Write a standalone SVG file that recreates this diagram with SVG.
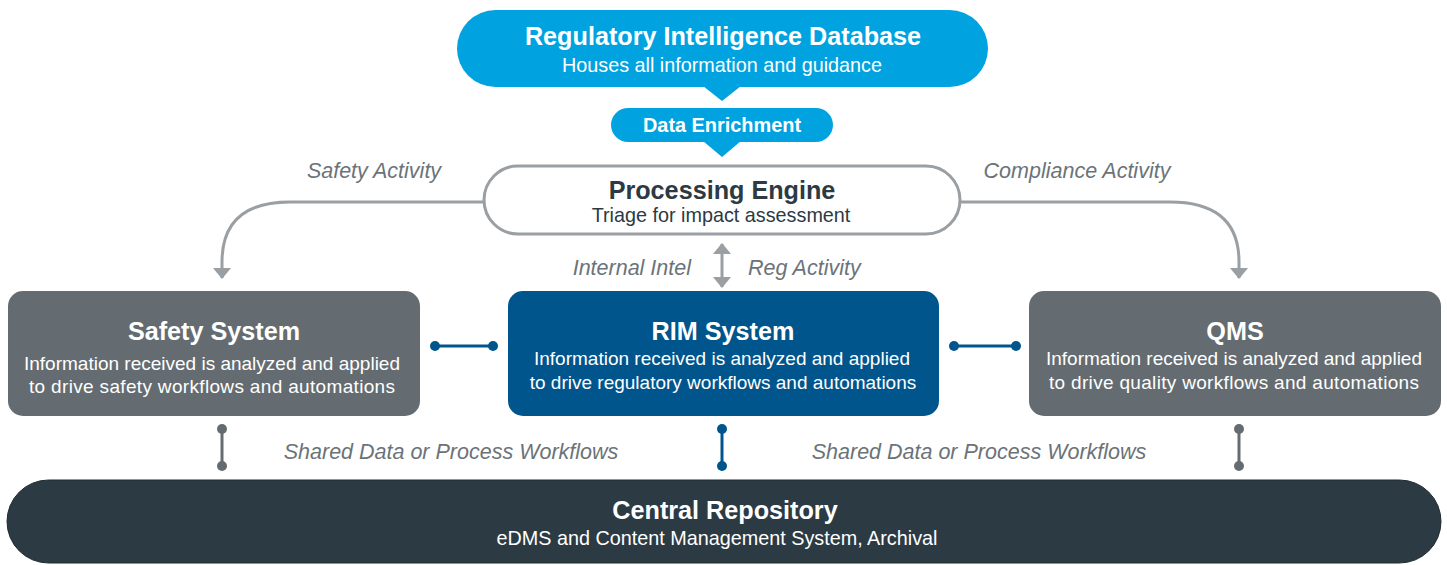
<svg xmlns="http://www.w3.org/2000/svg" width="1447" height="565" viewBox="0 0 1447 565">
  <style>
    text { font-family: "Liberation Sans", Arial, sans-serif; text-anchor: middle; }
    .title { font-weight: bold; font-size: 25.2px; fill: #ffffff; }
    .sub { font-size: 19.8px; fill: #ffffff; }
    .info { font-size: 19px; fill: #ffffff; }
    .label { font-style: italic; font-size: 21.5px; fill: #6b7378; }
    .flow { fill: none; stroke: #999fa3; stroke-width: 3; }
    .link-blue { stroke: #00558c; stroke-width: 3; }
    .link-gray { stroke: #646c71; stroke-width: 3; }
  </style>
  <defs>
    <marker id="head" viewBox="0 0 11 18" refX="10" refY="9" markerWidth="11" markerHeight="18" orient="auto-start-reverse" markerUnits="userSpaceOnUse">
      <path d="M0,0 L11,9 L0,18 Z" fill="#999fa3"/>
    </marker>
  </defs>

  <!-- Regulatory Intelligence Database -->
  <g id="rid">
    <rect x="457" y="10" width="531" height="77" rx="38.5" fill="#00a3e0"/>
    <path d="M703,86 L741,86 L722,101 Z" fill="#00a3e0"/>
    <text class="title" x="723" y="45">Regulatory Intelligence Database</text>
    <text class="sub" x="722" y="72">Houses all information and guidance</text>
  </g>

  <!-- Data Enrichment -->
  <g id="enrichment">
    <rect x="611" y="108" width="222" height="34" rx="17" fill="#00a3e0"/>
    <path d="M703,141 L741,141 L722,157 Z" fill="#00a3e0"/>
    <text x="722" y="132" style="font-weight:bold;font-size:19.9px;fill:#ffffff">Data Enrichment</text>
  </g>

  <!-- Processing Engine -->
  <g id="engine">
    <rect x="484" y="166" width="476" height="68" rx="34" fill="#ffffff" stroke="#999fa3" stroke-width="3"/>
    <text class="title" x="722" y="199" style="fill:#2c3a44">Processing Engine</text>
    <text class="sub" x="721" y="222" style="fill:#2c3a44">Triage for impact assessment</text>
  </g>

  <!-- Safety System -->
  <g id="safety">
    <rect x="8" y="291" width="412" height="125" rx="15" fill="#646c71"/>
    <text class="title" x="214" y="340">Safety System</text>
    <text class="info" x="212" y="370">Information received is analyzed and applied</text>
    <text class="info" x="212" y="393" textLength="366">to drive safety workflows and automations</text>
  </g>

  <!-- RIM System -->
  <g id="rim">
    <rect x="508" y="291" width="431" height="125" rx="15" fill="#00558c"/>
    <text class="title" x="723" y="340">RIM System</text>
    <text class="info" x="722" y="365">Information received is analyzed and applied</text>
    <text class="info" x="723" y="389">to drive regulatory workflows and automations</text>
  </g>

  <!-- QMS -->
  <g id="qms">
    <rect x="1029" y="291" width="412" height="125" rx="15" fill="#646c71"/>
    <text class="title" x="1235" y="340">QMS</text>
    <text class="info" x="1234" y="365">Information received is analyzed and applied</text>
    <text class="info" x="1234" y="389" textLength="370">to drive quality workflows and automations</text>
  </g>

  <!-- Central Repository -->
  <g id="repository">
    <rect x="7" y="480" width="1434" height="83" rx="41.5" fill="#2c3a44" stroke="#1f2a31" stroke-width="1"/>
    <text class="title" x="725" y="519">Central Repository</text>
    <text class="sub" x="717" y="545">eDMS and Content Management System, Archival</text>
  </g>

  <!-- Connectors -->
  <g id="connectors">
    <path class="flow" d="M484,202 L290,202 Q222,202 222,262 L222,278" marker-end="url(#head)"/>
    <path class="flow" d="M960,202 L1170,202 Q1239,202 1239,262 L1239,278" marker-end="url(#head)"/>
    <line class="flow" x1="722" y1="244" x2="722" y2="287" marker-start="url(#head)" marker-end="url(#head)"/>

    <line class="link-blue" x1="435" y1="346" x2="493" y2="346"/>
    <circle cx="435" cy="346" r="5" fill="#00558c"/>
    <circle cx="493" cy="346" r="5" fill="#00558c"/>
    <line class="link-blue" x1="954" y1="346" x2="1016" y2="346"/>
    <circle cx="954" cy="346" r="5" fill="#00558c"/>
    <circle cx="1016" cy="346" r="5" fill="#00558c"/>

    <line class="link-gray" x1="222" y1="429" x2="222" y2="466"/>
    <circle cx="222" cy="429" r="5" fill="#646c71"/>
    <circle cx="222" cy="466" r="5" fill="#646c71"/>
    <line class="link-blue" x1="722" y1="429" x2="722" y2="466"/>
    <circle cx="722" cy="429" r="5" fill="#00558c"/>
    <circle cx="722" cy="466" r="5" fill="#00558c"/>
    <line class="link-gray" x1="1239" y1="429" x2="1239" y2="466"/>
    <circle cx="1239" cy="429" r="5" fill="#646c71"/>
    <circle cx="1239" cy="466" r="5" fill="#646c71"/>

    <text class="label" x="374" y="178">Safety Activity</text>
    <text class="label" x="1077" y="178">Compliance Activity</text>
    <text class="label" x="691" y="275" style="text-anchor:end">Internal Intel</text>
    <text class="label" x="748" y="275" style="text-anchor:start">Reg Activity</text>
    <text class="label" x="451" y="459">Shared Data or Process Workflows</text>
    <text class="label" x="979" y="459">Shared Data or Process Workflows</text>
  </g>
</svg>
